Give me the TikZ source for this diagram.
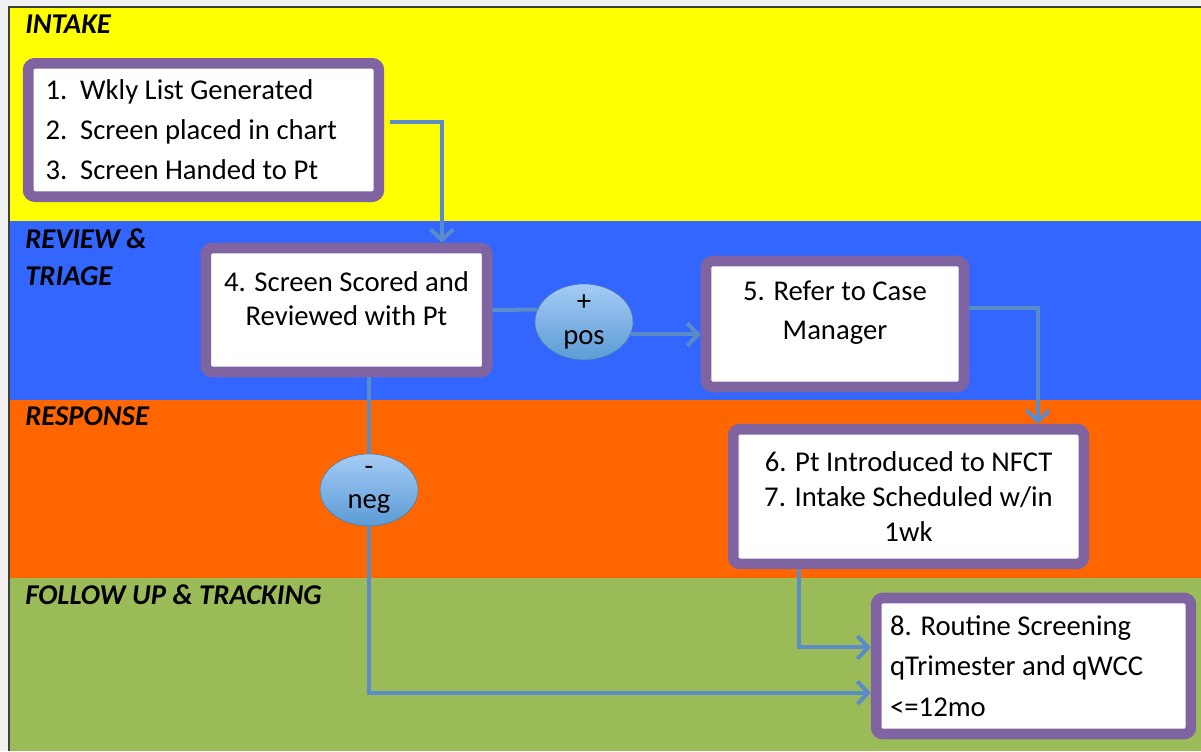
\documentclass[tikz,border=0pt]{standalone}
\usepackage{fontspec}
\setmainfont{Carlito}
\usepackage{tikz}
\usetikzlibrary{shapes,arrows,arrows.meta}
\definecolor{laneyellow}{HTML}{FFFF00}
\definecolor{laneblue}{HTML}{3366FF}
\definecolor{laneorange}{HTML}{FF6600}
\definecolor{lanegreen}{HTML}{9BBB59}
\definecolor{boxpurple}{HTML}{8064A2}
\definecolor{arrowblue}{HTML}{5B8CC8}
\definecolor{ovaltop}{HTML}{A5CBF5}
\definecolor{ovalbottom}{HTML}{5B9BD5}
\newcommand{\stepno}[1]{\makebox[26pt][l]{#1}}
\tikzstyle{block} = [rectangle, draw=boxpurple, line width=8pt, fill=white, rounded corners=5pt, inner sep=0pt]
\tikzstyle{cloud} = [ellipse, draw=ovalbottom!80!black, thin, top color=ovaltop, bottom color=ovalbottom, minimum width=73.5pt, minimum height=54pt, inner sep=0pt, align=center, font=\fontsize{21.5}{25}\selectfont]
\tikzstyle{line} = [draw=arrowblue, line width=3pt, -{Straight Barb[length=8pt,width=17pt]}]
\tikzstyle{link} = [draw=arrowblue, line width=3pt]
\tikzstyle{lanelabel} = [anchor=west, inner sep=0pt, align=flush left, font=\fontsize{21.5}{27.75}\selectfont\bfseries\itshape]

\begin{document}
\begin{tikzpicture}[x=0.75pt, y=-0.75pt]
      \useasboundingbox (0,0) rectangle (1201,751);
      % Lanes
      \fill[black!6] (0,0) rectangle (1201,751);
      \fill[laneyellow] (9,8) rectangle (1201,221);
      \fill[laneblue] (9,221) rectangle (1201,400);
      \fill[laneorange] (9,400) rectangle (1201,578);
      \fill[lanegreen] (9,578) rectangle (1201,751);
      \draw[black!75, line width=1.5pt] (9,751) -- (9,7) -- (1201,7);

      \node [lanelabel] (intake) at (25,24) {INTAKE};
      \node [lanelabel] (review) at (25,257.5) {REVIEW \&\\TRIAGE};
      \node [lanelabel] (response) at (25,416) {RESPONSE};
      \node [lanelabel] (follow) at (25,595) {FOLLOW UP \& TRACKING};

      % Place nodes
      \node [block, minimum width=263pt, minimum height=100pt, text width=237pt, align=flush left, font=\fontsize{21.5}{30}\selectfont] (list) at (203.5,130)
            {\stepno{1.}Wkly List Generated\\ \stepno{2.}Screen placed in chart\\ \stepno{3.}Screen Handed to Pt};
      \node [block, minimum width=211pt, minimum height=93pt, align=center, text depth=17pt, font=\fontsize{21.5}{25}\selectfont] (score) at (346.5,310)
            {4. Screen Scored and\\Reviewed with Pt};
      \node [cloud] (pos) at (584,322) {+\\pos};
      \node [block, minimum width=193.5pt, minimum height=94.5pt, align=center, text depth=21pt, font=\fontsize{21.5}{29}\selectfont] (refer) at (835,324)
            {5. Refer to Case\\Manager};
      \node [block, minimum width=263pt, minimum height=101pt, align=center, font=\fontsize{21.5}{26}\selectfont] (intro) at (908.5,496.5)
            {6. Pt Introduced to NFCT\\7. Intake Scheduled w/in\\1wk};
      \node [cloud] (neg) at (369,490) {-\\neg};
      \node [block, minimum width=236pt, minimum height=102pt, text width=215pt, align=flush left, font=\fontsize{21.5}{30.5}\selectfont] (routine) at (1033.5,666)
            {8. Routine Screening\\qTrimester and qWCC\\<=12mo};

      % Draw edges
      \path [line] ([xshift=4pt,yshift=6pt]list.east) -| ([xshift=71.6pt]score.north);
      \path [link] (score.east) -- (pos.165);
      \path [line] (pos.345) -- (pos.345 -| refer.west);
      \path [line] ([yshift=12pt]refer.east) -| ([xshift=97pt]intro.north);
      \path [link] (score.south -| neg.north) -- (neg.north);
      \path [line] (neg.south) |- ([yshift=-20pt]routine.west);
      \path [line] ([xshift=-82pt]intro.south) |- ([yshift=14pt]routine.west);
    \end{tikzpicture}
\end{document}
